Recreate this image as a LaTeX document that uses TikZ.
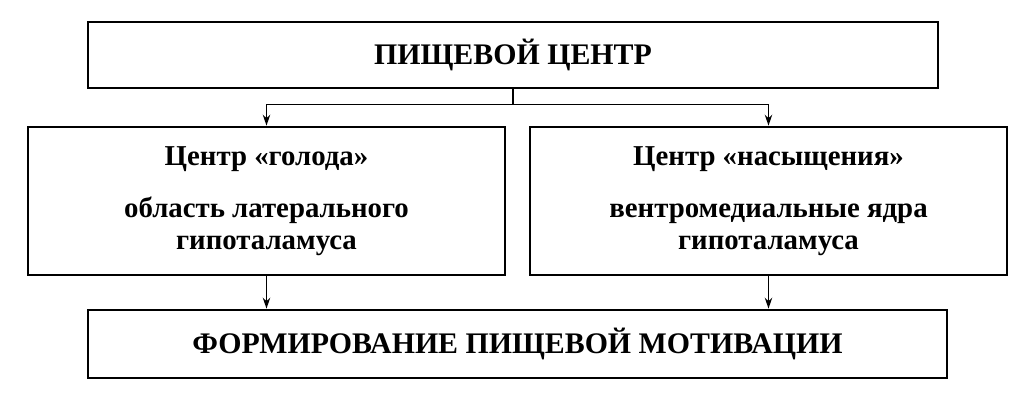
\documentclass[tikz,border=0pt]{standalone}
\usepackage{fontspec}
\setmainfont{Liberation Serif}
\usetikzlibrary{arrows.meta}
\usetikzlibrary{positioning}

\tikzset{
  blok/.style={draw, line width=0.55mm, inner sep=0pt, font=\bfseries},
  strelka/.style={line width=0.3mm, -{Stealth[length=2.2mm,width=1.5mm]}}
}

\begin{document}
\begin{tikzpicture}[x=0.2mm,y=-0.2mm]
    \useasboundingbox (0,0) rectangle (1024,407);

    \node[blok, minimum width=170mm, minimum height=13.2mm, font=\bfseries\fontsize{17}{20}\selectfont] (centr) at (513,55) {ПИЩЕВОЙ ЦЕНТР};

    \node[blok, minimum width=95.4mm, minimum height=29.6mm, align=center, font=\bfseries\fontsize{16.4}{18}\selectfont] (golod) at (266.5,201)
      {Центр «голода»\\[4.2mm] область латерального\\ гипоталамуса};
    \node[blok, minimum width=95.4mm, minimum height=29.6mm, align=center, font=\bfseries\fontsize{16.4}{18}\selectfont] (sytost) at (768.5,201)
      {Центр «насыщения»\\[4.2mm] вентромедиальные ядра\\ гипоталамуса};

    \node[blok, minimum width=171.8mm, minimum height=13.6mm, font=\bfseries\fontsize{17}{20}\selectfont] (motiv) at (517.5,344) {ФОРМИРОВАНИЕ ПИЩЕВОЙ МОТИВАЦИИ};

    \draw[line width=0.3mm] (centr.south) -- ++(0,15) coordinate (razv);
    \draw[strelka] (razv) -| (golod.north);
    \draw[strelka] (razv) -| (sytost.north);

    \draw[strelka] (golod.south) -- (golod.south |- motiv.north);
    \draw[strelka] (sytost.south) -- (sytost.south |- motiv.north);
  \end{tikzpicture}
\end{document}
